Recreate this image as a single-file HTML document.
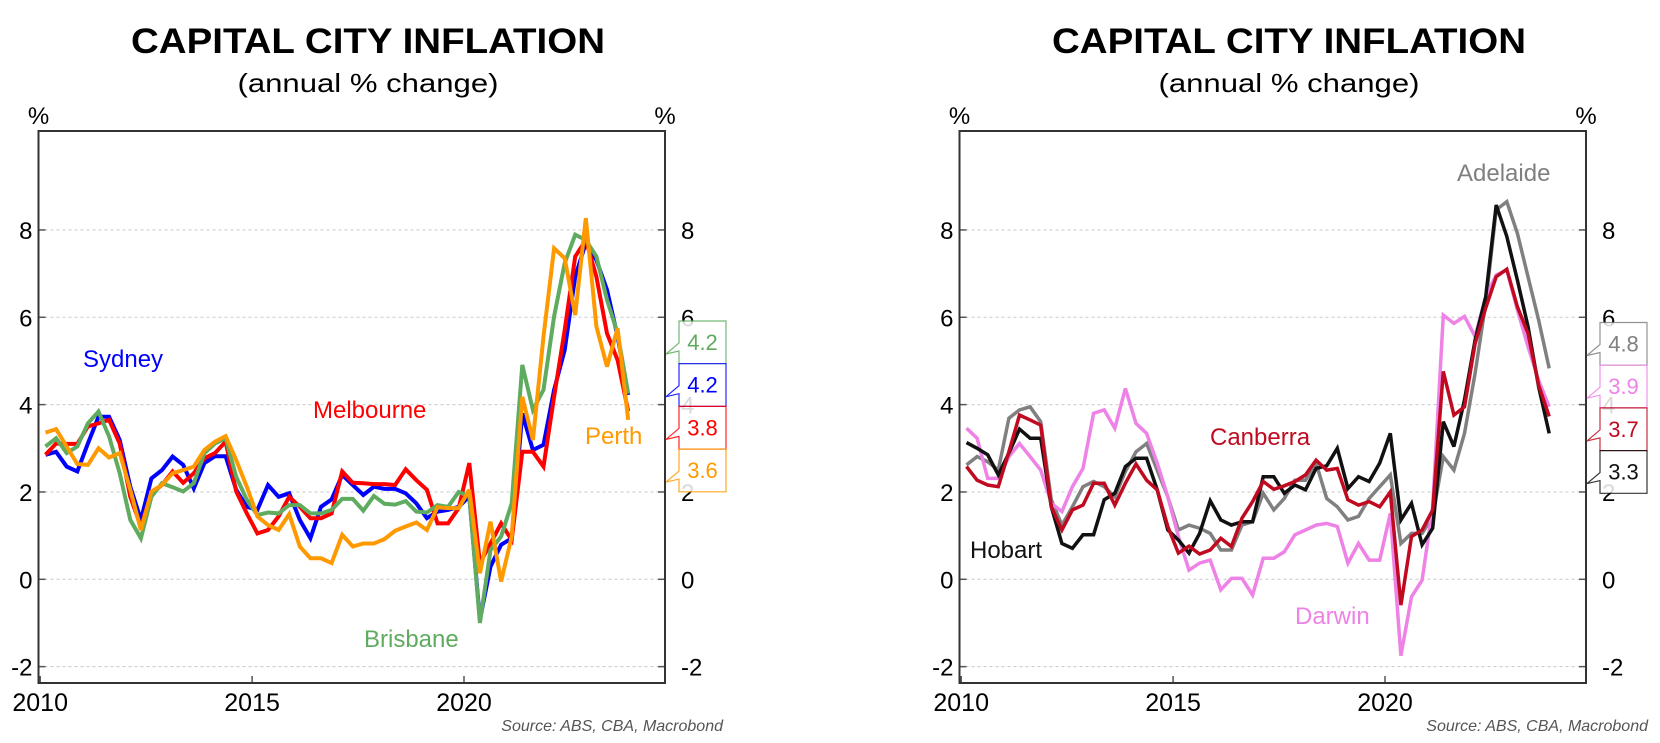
<!DOCTYPE html>
<html><head><meta charset="utf-8">
<style>
html,body{margin:0;padding:0;background:#fff;}
svg{display:block;font-family:"Liberation Sans",Arial,sans-serif;}
</style></head>
<body>
<svg id="root" width="1660" height="743" viewBox="0 0 1660 743"></svg>
<script>
// ---------- data ----------
const quarterStart = 2010.125; // 2010Q1 plotted position; one point per quarter
const yTicks = [-2, 0, 2, 4, 6, 8];
const xTicks = [2010, 2015, 2020];
const sydney = [2.85,2.92,2.58,2.47,3.11,3.72,3.72,3.19,2.12,1.36,2.31,2.5,2.81,2.62,2.08,2.66,2.82,2.82,2.05,1.66,1.59,2.16,1.89,1.97,1.36,0.94,1.66,1.83,2.39,2.16,1.93,2.12,2.07,2.07,1.97,1.74,1.4,1.55,1.59,1.66,1.9,-0.93,0.29,0.79,0.94,3.8,2.96,3.08,4.34,5.25,6.93,7.7,7.31,6.63,5.56,4.22];
const melbourne = [2.85,3.11,3.1,3.1,3.5,3.57,3.65,3.11,1.89,1.21,1.97,2.16,2.47,2.21,2.43,2.77,2.89,3.15,2.01,1.51,1.05,1.13,1.44,1.89,1.66,1.4,1.4,1.51,2.47,2.21,2.2,2.18,2.18,2.16,2.52,2.27,2.05,1.28,1.28,1.63,2.66,0.37,0.82,1.28,0.9,2.92,2.92,2.58,4.18,5.71,7.39,7.77,6.93,5.63,5.02,3.85];
const brisbane = [3.04,3.23,2.89,3.04,3.57,3.84,3.27,2.43,1.36,0.94,1.89,2.2,2.11,2.01,2.2,2.89,3.11,3.23,2.35,1.82,1.47,1.53,1.51,1.7,1.7,1.51,1.51,1.59,1.84,1.84,1.57,1.91,1.73,1.71,1.79,1.55,1.53,1.7,1.66,2.0,1.9,-1.0,0.67,0.98,1.74,4.91,3.88,4.34,6.02,7.24,7.89,7.77,7.39,6.4,5.63,4.25];
const perth = [3.36,3.44,3.04,2.64,2.62,3.0,2.79,2.89,2.05,1.13,2.01,2.16,2.43,2.5,2.58,2.96,3.15,3.28,2.73,2.12,1.44,1.24,1.13,1.49,0.75,0.48,0.48,0.37,1.02,0.75,0.82,0.82,0.92,1.11,1.21,1.3,1.13,1.65,1.63,1.63,2.05,0.14,1.32,-0.05,0.98,4.18,3.19,5.56,7.58,7.35,6.05,8.27,5.79,4.87,5.75,3.65];
const adelaide = [2.62,2.81,2.69,2.5,3.69,3.88,3.95,3.61,1.82,1.24,1.66,2.12,2.24,2.12,1.89,2.47,2.92,3.11,2.5,1.89,1.13,1.24,1.17,1.05,0.67,0.67,1.24,1.32,1.97,1.59,1.85,2.27,2.27,2.66,1.85,1.66,1.36,1.44,1.85,2.12,2.39,0.82,1.05,1.05,1.44,2.81,2.5,3.34,4.72,6.32,8.46,8.65,7.92,6.93,5.94,4.83];
const hobart = [3.13,3.0,2.85,2.39,2.89,3.44,3.23,3.23,1.66,0.82,0.71,1.02,1.02,1.82,1.97,2.58,2.77,2.77,2.05,1.13,0.9,0.6,1.05,1.8,1.36,1.24,1.32,1.32,2.35,2.35,1.97,2.16,2.05,2.54,2.6,3.0,2.08,2.35,2.24,2.66,3.34,1.36,1.74,0.79,1.17,3.61,3.04,4.11,5.48,6.47,8.57,7.85,6.85,5.79,4.41,3.34];
const canberra = [2.58,2.27,2.16,2.12,2.92,3.76,3.65,3.53,1.66,1.13,1.59,1.7,2.2,2.2,1.7,2.2,2.64,2.27,2.05,1.21,0.6,0.76,0.58,0.67,0.94,0.75,1.4,1.78,2.24,2.06,2.14,2.24,2.39,2.73,2.5,2.54,1.82,1.7,1.78,1.66,2.0,-0.59,0.98,1.13,1.59,4.76,3.76,3.95,5.4,6.21,6.93,7.1,6.24,5.63,4.45,3.73];
const darwin = [3.46,3.23,2.31,2.31,2.81,3.11,2.81,2.5,1.74,1.55,2.12,2.54,3.8,3.88,3.46,4.37,3.57,3.34,2.66,1.89,0.98,0.21,0.37,0.44,-0.24,0.02,0.02,-0.36,0.48,0.48,0.63,1.02,1.13,1.24,1.28,1.21,0.37,0.82,0.44,0.44,1.51,-1.75,-0.4,-0.02,1.66,6.05,5.86,6.02,5.56,6.47,6.97,7.08,6.17,5.33,4.56,3.95];
const leftLatest = ["4.2","4.2","3.8","3.6"];
const rightLatest = ["4.8","3.9","3.7","3.3"];

// ---------- helpers ----------
const NS = "http://www.w3.org/2000/svg";
const root = document.getElementById('root');
function mk(tag, attrs, parent, text){
  const e = document.createElementNS(NS, tag);
  for (const k in attrs) e.setAttribute(k, attrs[k]);
  if (text !== undefined) e.textContent = text;
  (parent||root).appendChild(e);
  return e;
}

function drawChart(cfg){
  const g = mk('g', {});
  
  
  const L = cfg.left, R = cfg.right, T = 131, B = 683;
  const xs = yr => L + 1.7 + (yr - 2010) * 42.38;
  const ys = v => 579.3 - v * 43.67;
  const xq = i => xs(quarterStart + i * 0.25);

  let t = mk('text', {x: cfg.cx, y: 53, 'text-anchor':'middle', 'font-size':35, 'font-weight':'bold', textLength:474, lengthAdjust:'spacingAndGlyphs', fill:'#000'}, g, 'CAPITAL CITY INFLATION');
   
  t = mk('text', {x: cfg.cx, y: 92, 'text-anchor':'middle', 'font-size':26, textLength:261, lengthAdjust:'spacingAndGlyphs', fill:'#000'}, g, '(annual % change)');
   
  t = mk('text', {x: L, y: 124, 'text-anchor':'middle', 'font-size':24, fill:'#000'}, g, '%');
   
  t = mk('text', {x: R, y: 124, 'text-anchor':'middle', 'font-size':24, fill:'#000'}, g, '%');
   

  // gridlines & y ticks
  yTicks.forEach(v => {
    const y = ys(v);
    let l = mk('line', {x1:L, x2:R, y1:y, y2:y, stroke:'#c8c8c8', 'stroke-width':1, 'stroke-dasharray':'3,3'}, g);
     
    mk('line', {x1:L, x2:L+7, y1:y, y2:y, stroke:'#555', 'stroke-width':1.5}, g);
    mk('line', {x1:R-7, x2:R, y1:y, y2:y, stroke:'#555', 'stroke-width':1.5}, g);
    let a = mk('text', {x: L-6, y: y+9, 'text-anchor':'end', 'font-size':24, fill:'#000'}, g, String(v));
     
    let b = mk('text', {x: R+16, y: y+9, 'text-anchor':'start', 'font-size':24, fill:'#000'}, g, String(v));
     
  });
  xTicks.forEach(yr => {
    const x = xs(yr);
    mk('line', {x1:x, x2:x, y1:B, y2:B-7, stroke:'#555', 'stroke-width':1.5}, g);
    let a = mk('text', {x: x, y: 711, 'text-anchor':'middle', 'font-size':25, fill:'#000'}, g, String(yr));
     
  });

  // series
  cfg.series.forEach(s => {
    const d = s.data.map((v,i) => (i ? 'L' : 'M') + xq(i).toFixed(1) + ',' + ys(v).toFixed(1)).join(' ');
    const p = mk('path', {d: d, fill:'none', stroke: s.color, 'stroke-width': cfg.lw, 'stroke-linejoin':'miter', 'stroke-miterlimit':3}, g);
    
    
    const lb = mk('text', {x: s.lx, y: s.ly, 'text-anchor':'start', 'font-size':24, fill: s.color}, g, s.label);
    
    
  });

  // frame
  let f = mk('rect', {x:L, y:T, width:R-L, height:B-T, fill:'none', stroke:'#333', 'stroke-width':2}, g);
   

  // latest value tags
  cfg.tags.forEach((tg, k) => {
    const top = cfg.tagTop + k * 42.7, bx = R + 14, bw = 47, bh = 42.7;
    const pts = [[bx,top],[bx+bw,top],[bx+bw,top+bh],[bx,top+bh],[bx,top+30],[R+1,top+33],[bx,top+22]];
    const pg = mk('polygon', {points: pts.map(p=>p.join(',')).join(' '), fill:'#fff', stroke: tg.color, 'stroke-width':1.2, opacity:0.85}, g);
    
    
    const tx = mk('text', {x: bx+bw/2, y: top+29, 'text-anchor':'middle', 'font-size':22, fill: tg.color}, g, tg.text);
    
    
  });

  let src = mk('text', {x: cfg.srcX, y: 731, 'text-anchor':'end', 'font-size':16, 'font-style':'italic', fill:'#555'}, g, 'Source: ABS, CBA, Macrobond');
   
}

drawChart({
  name:'left-chart', left:38.5, right:665, cx:368, lw:4, srcX:723, tagTop:321,
  series:[
    {key:'sydney', label:'Sydney', data:sydney, color:'#0000ff', lx:83, ly:367},
    {key:'melbourne', label:'Melbourne', data:melbourne, color:'#ff0000', lx:313, ly:418},
    {key:'brisbane', label:'Brisbane', data:brisbane, color:'#5fab5f', lx:364, ly:647},
    {key:'perth', label:'Perth', data:perth, color:'#ff9900', lx:585, ly:444}
  ],
  tags:[
    {key:'brisbane', text:leftLatest[0], color:'#5fab5f'},
    {key:'sydney', text:leftLatest[1], color:'#0000ff'},
    {key:'melbourne', text:leftLatest[2], color:'#ff0000'},
    {key:'perth', text:leftLatest[3], color:'#ff9900'}
  ]
});
drawChart({
  name:'right-chart', left:959.5, right:1586, cx:1289, lw:3.5, srcX:1648, tagTop:322.5,
  series:[
    {key:'adelaide', label:'Adelaide', data:adelaide, color:'#808080', lx:1457, ly:181},
    {key:'darwin', label:'Darwin', data:darwin, color:'#ee82e6', lx:1295, ly:624},
    {key:'hobart', label:'Hobart', data:hobart, color:'#111111', lx:970, ly:558},
    {key:'canberra', label:'Canberra', data:canberra, color:'#c00a20', lx:1210, ly:445}
  ],
  tags:[
    {key:'adelaide', text:rightLatest[0], color:'#808080'},
    {key:'darwin', text:rightLatest[1], color:'#ee82e6'},
    {key:'canberra', text:rightLatest[2], color:'#c00a20'},
    {key:'hobart', text:rightLatest[3], color:'#111111'}
  ]
});
</script>
</body></html>
